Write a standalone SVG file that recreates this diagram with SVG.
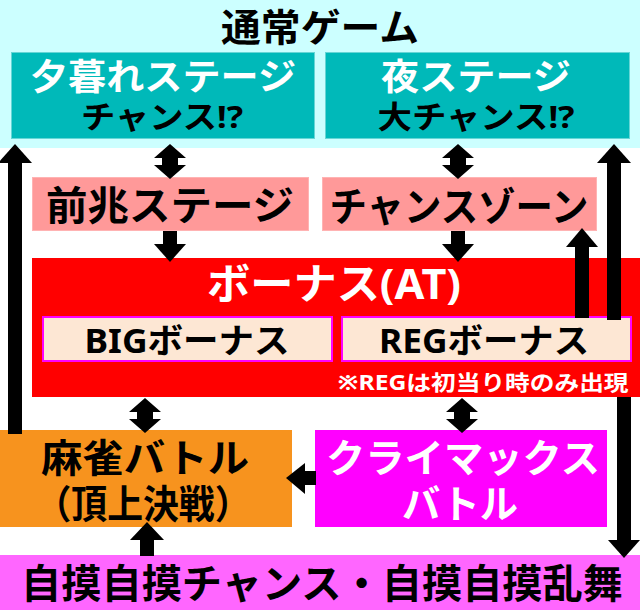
<svg xmlns="http://www.w3.org/2000/svg" width="640" height="610" viewBox="0 0 640 610">
<style>
text{font-family:"Noto Sans","Noto Sans CJK JP",sans-serif;font-weight:700;text-anchor:middle}
.w{fill:#ffffff}
.k{fill:#000000}
.a{fill:#000000}
</style>
<rect width="640" height="610" fill="#ffffff"/>
<g id="normal-game">
<rect x="0" y="0" width="640" height="148" fill="#ccffff"/>
<text class="k" x="320" y="41" font-size="38" textLength="198" lengthAdjust="spacingAndGlyphs">通常ゲーム</text>
</g>
<g id="yugure">
<rect x="11.5" y="52.5" width="303" height="86" fill="#00b9b9" stroke="#66d6d6" stroke-width="1"/>
<text class="w" x="163" y="90" font-size="36" textLength="266" lengthAdjust="spacingAndGlyphs">夕暮れステージ</text>
<text class="k" x="162" y="128" font-size="31" textLength="162" lengthAdjust="spacingAndGlyphs">チャンス!?</text>
</g>
<g id="yoru">
<rect x="325.5" y="52.5" width="304" height="86" fill="#00b9b9" stroke="#66d6d6" stroke-width="1"/>
<text class="w" x="476" y="90" font-size="36" textLength="190" lengthAdjust="spacingAndGlyphs">夜ステージ</text>
<text class="k" x="476" y="128" font-size="31" textLength="197" lengthAdjust="spacingAndGlyphs">大チャンス!?</text>
</g>
<g id="zencho">
<rect x="32.5" y="177.5" width="276" height="53" fill="#ff9999" stroke="#ffb3b3" stroke-width="1"/>
<text class="k" x="170" y="220" font-size="40" textLength="248" lengthAdjust="spacingAndGlyphs">前兆ステージ</text>
</g>
<g id="chance-zone">
<rect x="322.5" y="177.5" width="274" height="53" fill="#ff9999" stroke="#ffb3b3" stroke-width="1"/>
<text class="k" x="459" y="221" font-size="40" textLength="259" lengthAdjust="spacingAndGlyphs">チャンスゾーン</text>
</g>
<g id="bonus">
<rect x="32" y="258" width="608" height="139" fill="#ff0000"/>
<text class="w" x="334" y="299" font-size="42" textLength="254" lengthAdjust="spacingAndGlyphs">ボーナス(AT)</text>
<text class="w" x="483" y="390" font-size="21" textLength="291" lengthAdjust="spacingAndGlyphs">※REGは初当り時のみ出現</text>
</g>
<g id="big-bonus">
<rect x="43" y="317" width="289" height="44" fill="#fde7d4" stroke="#ff00ff" stroke-width="2"/>
<text class="k" x="187" y="353" font-size="34" textLength="205" lengthAdjust="spacingAndGlyphs">BIGボーナス</text>
</g>
<g id="reg-bonus">
<rect x="342" y="317" width="289" height="44" fill="#fde7d4" stroke="#ff00ff" stroke-width="2"/>
<text class="k" x="484" y="353" font-size="34" textLength="210" lengthAdjust="spacingAndGlyphs">REGボーナス</text>
</g>
<g id="mahjong-battle">
<rect x="0" y="430" width="292" height="97" fill="#f7931e"/>
<text class="k" x="145" y="472" font-size="39" textLength="208" lengthAdjust="spacingAndGlyphs">麻雀バトル</text>
<text class="k" x="143" y="518" font-size="39" textLength="215" lengthAdjust="spacingAndGlyphs">（頂上決戦）</text>
</g>
<g id="climax-battle">
<rect x="315" y="430" width="292" height="97" fill="#ff00ff"/>
<text class="w" x="463" y="472" font-size="39" textLength="274" lengthAdjust="spacingAndGlyphs">クライマックス</text>
<text class="w" x="460" y="518" font-size="39" textLength="116" lengthAdjust="spacingAndGlyphs">バトル</text>
</g>
<g id="tsumo">
<rect x="0" y="555" width="640" height="55" fill="#ff66ff"/>
<text class="k" x="322" y="598" font-size="40" textLength="602" lengthAdjust="spacingAndGlyphs">自摸自摸チャンス・自摸自摸乱舞</text>
</g>
<g id="connectors">
<rect class="a" x="8" y="162" width="14" height="272"/>
<polygon class="a" points="15,144 32,163 -2,163"/>
<polygon class="a" points="170,144 186,158 178,158 178,165 186,165 170,179 154,165 162,165 162,158 154,158"/>
<polygon class="a" points="458,144 474,158 466,158 466,165 474,165 458,179 442,165 450,165 450,158 442,158"/>
<rect class="a" x="163" y="231" width="14" height="14"/>
<polygon class="a" points="154,244 186,244 170,262"/>
<rect class="a" x="451" y="231" width="14" height="14"/>
<polygon class="a" points="442,244 474,244 458,262"/>
<rect class="a" x="575" y="246" width="14" height="72"/>
<polygon class="a" points="582,228 598,247 566,247"/>
<rect class="a" x="607" y="162" width="14" height="158"/>
<polygon class="a" points="614,144 631,163 597,163"/>
<rect class="a" x="617" y="397" width="14" height="144"/>
<polygon class="a" points="608,540 640,540 624,558"/>
<polygon class="a" points="145,398 161,412 153,412 153,419 161,419 145,433 129,419 137,419 137,412 129,412"/>
<polygon class="a" points="462,398 478,412 470,412 470,419 478,419 462,433 446,419 454,419 454,412 446,412"/>
<rect class="a" x="304" y="471" width="12" height="14"/>
<polygon class="a" points="286,478 305,463 305,494"/>
<rect class="a" x="140" y="539" width="14" height="17"/>
<polygon class="a" points="147,522 164,540 130,540"/>
</g>
</svg>
